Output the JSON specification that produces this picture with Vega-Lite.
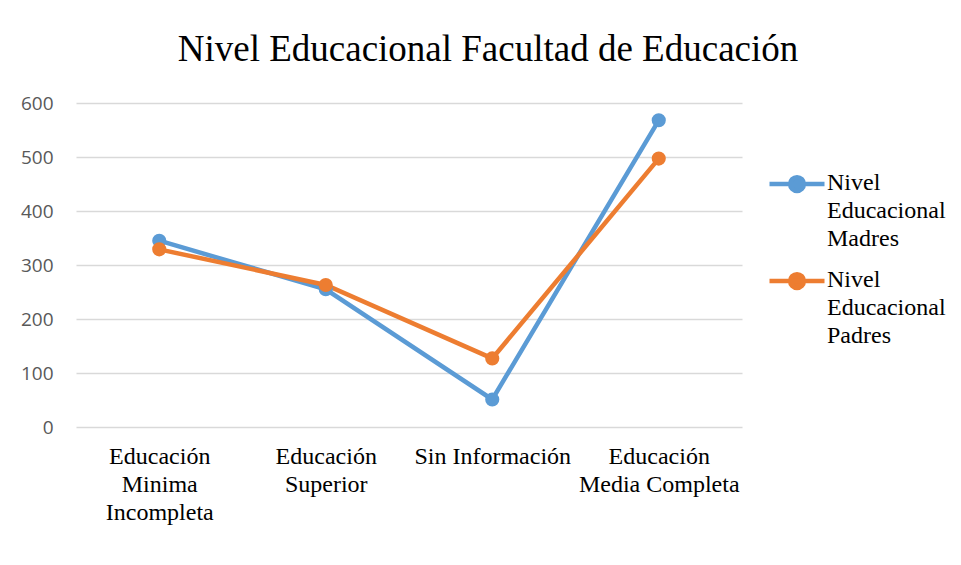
{
  "$schema": "https://vega.github.io/schema/vega-lite/v6.json",
  "width": 666,
  "height": 324,
  "autosize": "none",
  "padding": {"left": 76, "top": 103, "right": 219, "bottom": 138},
  "background": "white",
  "config": {"view": {"stroke": null}},
  "title": {
    "text": "Nivel Educacional Facultad de Educación",
    "font": "Liberation Serif",
    "fontSize": 37,
    "fontWeight": "normal",
    "color": "black",
    "anchor": "middle",
    "dx": 79,
    "offset": 25
  },
  "data": {
    "values": [
      {"categoria": "Educación Minima Incompleta", "serie": "Nivel Educacional Madres", "valor": 345},
      {"categoria": "Educación Superior", "serie": "Nivel Educacional Madres", "valor": 255},
      {"categoria": "Sin Información", "serie": "Nivel Educacional Madres", "valor": 51},
      {"categoria": "Educación Media Completa", "serie": "Nivel Educacional Madres", "valor": 568},
      {"categoria": "Educación Minima Incompleta", "serie": "Nivel Educacional Padres", "valor": 329},
      {"categoria": "Educación Superior", "serie": "Nivel Educacional Padres", "valor": 263},
      {"categoria": "Sin Información", "serie": "Nivel Educacional Padres", "valor": 127},
      {"categoria": "Educación Media Completa", "serie": "Nivel Educacional Padres", "valor": 497}
    ]
  },
  "mark": {"type": "line", "strokeWidth": 4.5, "point": {"filled": true, "size": 200, "opacity": 1}},
  "encoding": {
    "x": {
      "field": "categoria",
      "type": "nominal",
      "sort": ["Educación Minima Incompleta", "Educación Superior", "Sin Información", "Educación Media Completa"],
      "scale": {"type": "point", "padding": 0.5},
      "axis": {
        "title": null,
        "labelAngle": 0,
        "labelExpr": "datum.value == 'Sin Información' ? datum.label : datum.value == 'Educación Media Completa' ? ['Educación', 'Media Completa'] : split(datum.label, ' ')",
        "labelFont": "Liberation Serif",
        "labelFontSize": 24,
        "labelColor": "black",
        "labelLineHeight": 28,
        "labelPadding": 17,
        "labelBaseline": "top",
        "ticks": false,
        "tickSize": 0,
        "domain": false,
        "grid": false,
        "labelLimit": 400
      }
    },
    "y": {
      "field": "valor",
      "type": "quantitative",
      "scale": {"domain": [0, 600], "nice": false},
      "axis": {
        "title": null,
        "values": [0, 100, 200, 300, 400, 500, 600],
        "labelFont": "Open Sans",
        "labelFontSize": 19,
        "labelColor": "#595959",
        "labelPadding": 23,
        "ticks": false,
        "tickSize": 0,
        "domain": false,
        "gridColor": "#d9d9d9",
        "gridWidth": 1.3
      }
    },
    "color": {
      "field": "serie",
      "type": "nominal",
      "scale": {"domain": ["Nivel Educacional Madres", "Nivel Educacional Padres"], "range": ["#5b9bd5", "#ed7d31"]},
      "legend": {
        "title": null,
        "orient": "none",
        "legendX": 691,
        "legendY": 51,
        "labelExpr": "split(datum.label, ' ')",
        "labelFont": "Liberation Serif",
        "labelFontSize": 24,
        "labelColor": "black",
        "labelOffset": 0,
        "labelBaseline": "top",
        "labelLimit": 300,
        "rowPadding": -18,
        "symbolType": "M-1,0H1M-0.25,0A0.25,0.25 0 1,0 0.25,0A0.25,0.25 0 1,0 -0.25,0Z",
        "symbolSize": 3025,
        "symbolStrokeWidth": 4.5,
        "encode": {
          "labels": {"update": {"lineHeight": {"value": 28}, "dy": {"value": -13}}},
          "symbols": {"update": {"fill": {"scale": "color", "field": "value"}, "stroke": {"scale": "color", "field": "value"}}}
        }
      }
    }
  }
}
